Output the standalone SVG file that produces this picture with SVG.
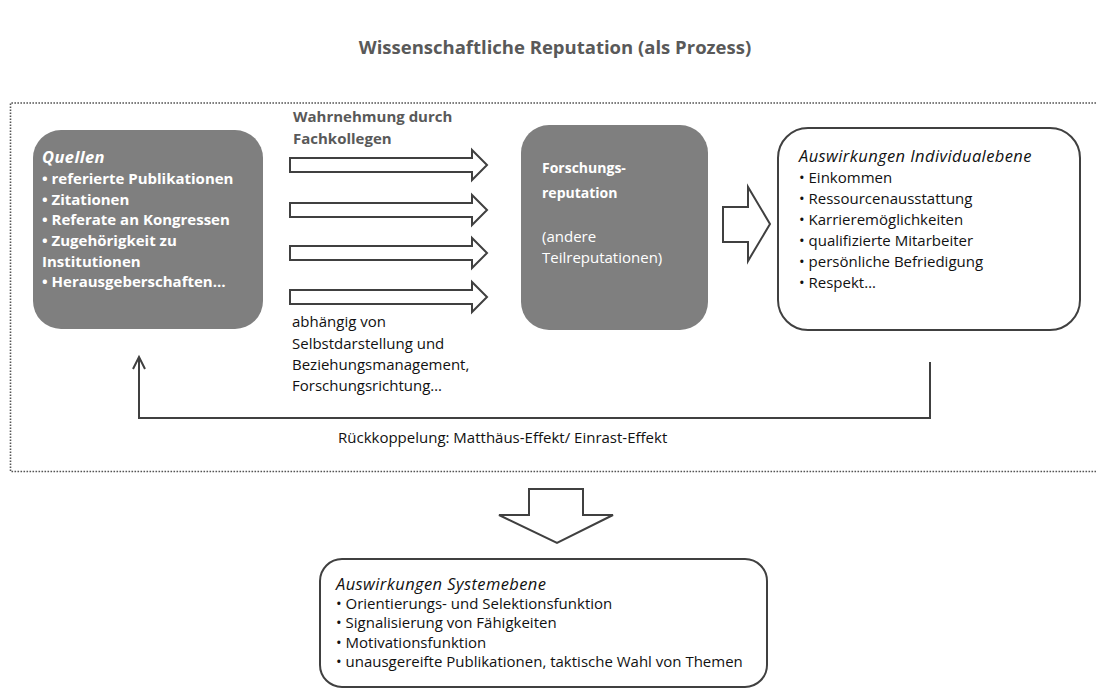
<svg xmlns="http://www.w3.org/2000/svg" width="1096" height="689" viewBox="0 0 1096 689">
<defs>
<style>
.t{font-family:"Open Sans","Noto Sans","Liberation Sans",sans-serif;font-size:15px;fill:#111}
.tw{font-family:"Open Sans","Noto Sans","Liberation Sans",sans-serif;font-size:15px;fill:#fff}
.b{font-weight:bold}
.i{font-style:italic}
.h{font-style:italic;font-size:16.5px;letter-spacing:0.4px}
.g{fill:#595959}
.grey{fill:#7f7f7f}
.outl{fill:#fff;stroke:#404040;stroke-width:2}
.conn{fill:none;stroke:#404040;stroke-width:2}
</style>
</defs>
<rect width="1096" height="689" fill="#fff"/>
<text x="555" y="54" text-anchor="middle" font-family="'Open Sans','Noto Sans','Liberation Sans',sans-serif" font-size="18.5" font-weight="bold" fill="#595959">Wissenschaftliche Reputation (als Prozess)</text>
<path d="M1096,103 H10.5 V471.5 H1096" fill="none" stroke="#555" stroke-width="1.6" stroke-dasharray="1.6 1.4"/>

<g id="quellen">
<rect class="grey" x="33" y="130" width="230" height="199" rx="28"/>
<text class="tw b"><tspan class="h" x="42" y="163">Quellen</tspan><tspan x="42" y="184">• referierte Publikationen</tspan><tspan x="42" y="205">• Zitationen</tspan><tspan x="42" y="225">• Referate an Kongressen</tspan><tspan x="42" y="246">• Zugehörigkeit zu</tspan><tspan x="42" y="267">Institutionen</tspan><tspan x="42" y="287">• Herausgeberschaften…</tspan></text>
</g>

<g id="wahrnehmung">
<text class="t b g" font-size="15.5"><tspan x="293" y="122">Wahrnehmung durch</tspan><tspan x="293" y="144">Fachkollegen</tspan></text>
<text class="t"><tspan x="292" y="327">abhängig von</tspan><tspan x="292" y="349">Selbstdarstellung und</tspan><tspan x="292" y="370">Beziehungsmanagement,</tspan><tspan x="292" y="391">Forschungsrichtung…</tspan></text>
</g>

<g id="forschung">
<rect class="grey" x="521" y="125" width="187" height="205" rx="28"/>
<text class="tw"><tspan class="b" x="542" y="173" font-size="14">Forschungs-</tspan><tspan class="b" x="542" y="198" font-size="14">reputation</tspan><tspan x="542" y="242">(andere</tspan><tspan x="542" y="263">Teilreputationen)</tspan></text>
</g>

<g id="individual">
<rect class="outl" x="778" y="128" width="302" height="202" rx="30"/>
<text class="t"><tspan class="h" x="799" y="162">Auswirkungen Individualebene</tspan><tspan x="799" y="183">• Einkommen</tspan><tspan x="799" y="204">• Ressourcenausstattung</tspan><tspan x="799" y="225">• Karrieremöglichkeiten</tspan><tspan x="799" y="246">• qualifizierte Mitarbeiter</tspan><tspan x="799" y="267">• persönliche Befriedigung</tspan><tspan x="799" y="288">• Respekt…</tspan></text>
</g>

<g id="system">
<rect class="outl" x="320" y="559" width="447" height="128" rx="22"/>
<text class="t"><tspan class="h" x="336" y="590">Auswirkungen Systemebene</tspan><tspan x="336" y="609">• Orientierungs- und Selektionsfunktion</tspan><tspan x="336" y="628">• Signalisierung von Fähigkeiten</tspan><tspan x="336" y="648">• Motivationsfunktion</tspan><tspan x="336" y="667">• unausgereifte Publikationen, taktische Wahl von Themen</tspan></text>
</g>

<g id="connectors">
<path class="outl" d="M290,158 H472 V150 L487,165 L472,180 V172 H290 Z"/>
<path class="outl" d="M290,203 H472 V195 L487,210 L472,225 V217 H290 Z"/>
<path class="outl" d="M290,246 H472 V238 L487,253 L472,268 V260 H290 Z"/>
<path class="outl" d="M290,290 H472 V282 L487,297 L472,312 V304 H290 Z"/>
<path class="outl" d="M723,207 H748 V187 L770,224 L748,261 V242 H723 Z"/>
<path class="outl" d="M529,489 H583 V515 H613 L557,543 L499,515 H529 Z"/>
<path class="conn" d="M930,362 V418 H139 V358"/>
<path class="conn" d="M133,369 L139,357 L145,369"/>
<text class="t" x="338" y="443">Rückkoppelung: Matthäus-Effekt/ Einrast-Effekt</text>
</g>
</svg>
